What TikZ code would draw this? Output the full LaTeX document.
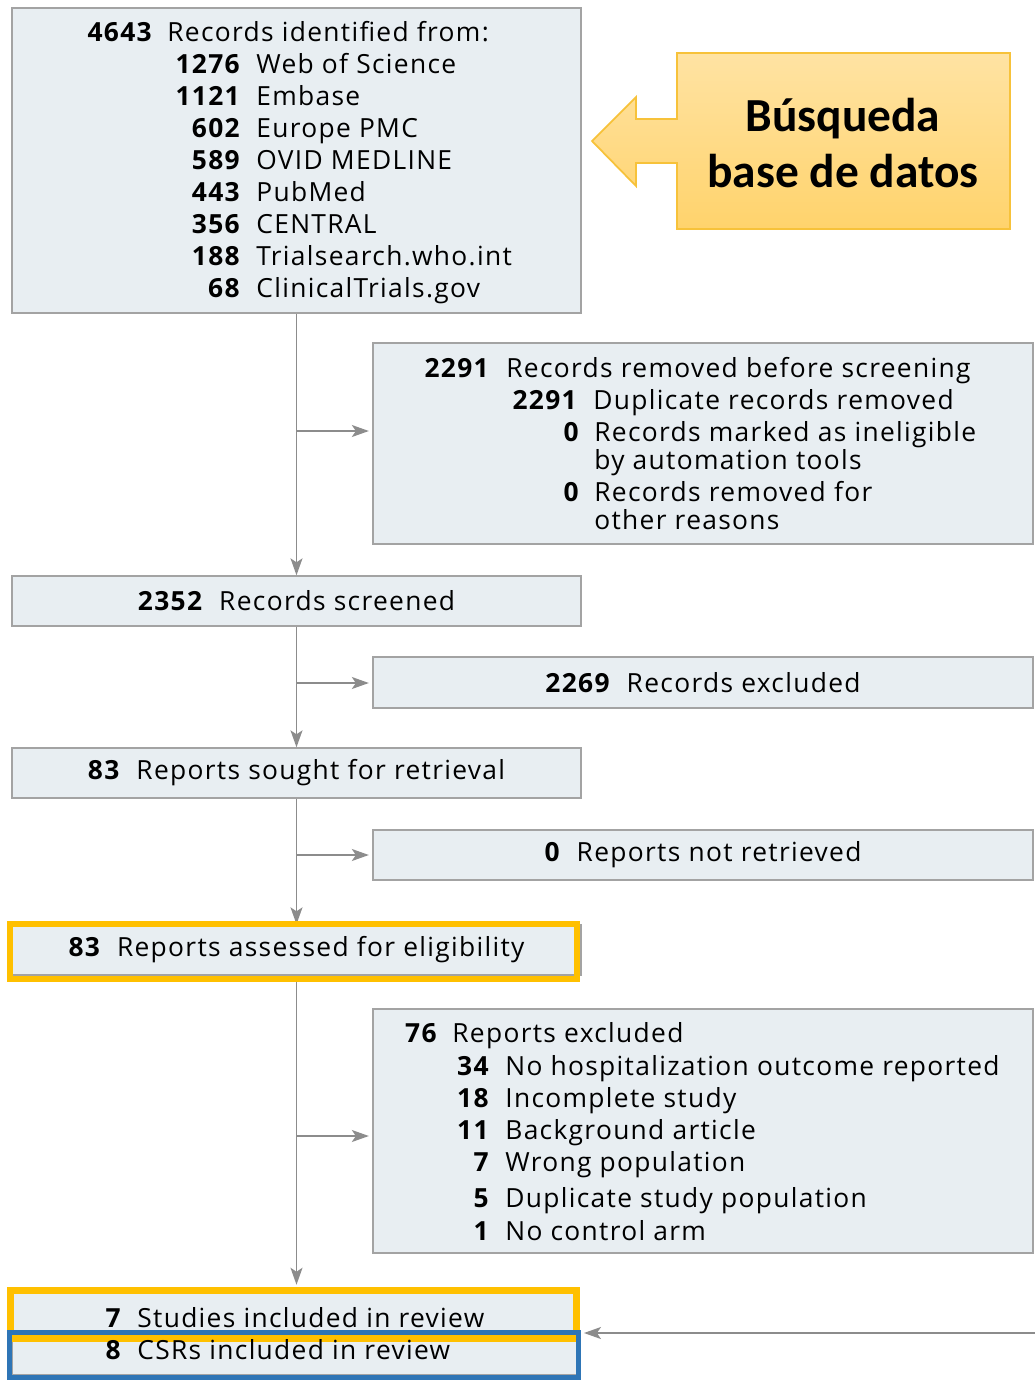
\documentclass[tikz,border=0pt]{standalone}
\usepackage{fontspec}
\setmainfont{Open Sans}[LetterSpace=5]
\newfontfamily\calloutfont{Carlito}
\usetikzlibrary{arrows.meta}

\definecolor{boxfill}{HTML}{E8EEF2}
\definecolor{boxline}{HTML}{A3A3A3}
\definecolor{arrowgray}{HTML}{8C8C8C}
\definecolor{hiorange}{HTML}{FFC000}
\definecolor{hiblue}{HTML}{2E75B6}
\definecolor{calltop}{HTML}{FFE3A3}
\definecolor{callbot}{HTML}{FFD36C}
\definecolor{callline}{HTML}{F7C23A}

\begin{document}
\begin{tikzpicture}[x=0.02cm,y=-0.02cm,
    box/.style={draw=boxline,fill=boxfill,line width=0.8pt,inner sep=0pt,font=\fontsize{15}{18}\selectfont},
    num/.style={anchor=mid east,inner sep=0pt,yshift=-0.1cm,font=\fontsize{15}{18}\selectfont\bfseries},
    txt/.style={anchor=mid west,inner sep=0pt,yshift=-0.1cm,font=\fontsize{15}{18}\selectfont},
    arr/.style={draw=arrowgray,line width=0.8pt,-{Stealth[length=0.34cm,width=0.24cm,inset=0.08cm]}},
    hilite/.style={inner sep=0pt,fill=none}]
    \useasboundingbox (0,0) rectangle (1035,1380);
    % boxes
    \node[box,minimum width=11.38cm,minimum height=6.1cm] (ident) at (296.5,160.5) {};
    \node[box,minimum width=13.2cm,minimum height=4.02cm] (removed) at (703,443.5) {};
    \node[box,minimum width=11.38cm,minimum height=1cm] (screened) at (296.5,601) {\textbf{2352}\hspace{0.6em}Records screened};
    \node[box,minimum width=13.2cm,minimum height=1.02cm] (excluded) at (703,682.5) {\textbf{2269}\hspace{0.6em}Records excluded};
    \node[box,minimum width=11.38cm,minimum height=1cm] (sought) at (296.5,773) {\textbf{83}\hspace{0.6em}Reports sought for retrieval};
    \node[box,minimum width=13.2cm,minimum height=1cm] (notretr) at (703,855) {\textbf{0}\hspace{0.6em}Reports not retrieved};
    \node[box,minimum width=11.38cm,minimum height=1cm] (assessed) at (296.5,950) {\textbf{83}\hspace{0.6em}Reports assessed for eligibility};
    \node[box,minimum width=13.2cm,minimum height=4.88cm] (repexcl) at (703,1131) {};
    \node[box,minimum width=11.32cm,minimum height=1.68cm] (included) at (295,1333) {};
    % identification
    \node[num] (idn) at (152,32) {4643};
    \node[txt] (idt) at (167,32) {Records identified from:};
    \foreach \y/\n/\t in {64/1276/Web of Science,96/1121/Embase,128/602/Europe PMC,
        160/589/OVID MEDLINE,192/443/PubMed,224/356/CENTRAL,
        256/188/Trialsearch.who.int,288/68/ClinicalTrials.gov}{
        \node[num] (srcn\y) at (240,\y) {\n};
        \node[txt] (srct\y) at (256,\y) {\t};
    }
    % removed before screening
    \node[num] (rmn1) at (489,368) {2291};
    \node[txt] (rmt1) at (506,368) {Records removed before screening};
    \node[num] (rmn2) at (577,400) {2291};
    \node[txt] (rmt2) at (593,400) {Duplicate records removed};
    \node[num] (rmn3) at (579,432) {0};
    \node[txt] (rmt3) at (594,432) {Records marked as ineligible};
    \node[txt] (rmt3b) at (594,460) {by automation tools};
    \node[num] (rmn4) at (579,492) {0};
    \node[txt] (rmt4) at (594,492) {Records removed for};
    \node[txt] (rmt4b) at (594,520) {other reasons};
    % reports excluded
    \node[num] (exn0) at (437,1033) {76};
    \node[txt] (ext0) at (452,1033) {Reports excluded};
    \foreach \y/\n/\t in {1066/34/No hospitalization outcome reported,1098/18/Incomplete study,
        1130/11/Background article,1162/7/Wrong population,
        1198/5/Duplicate study population,1231/1/No control arm}{
        \node[num] (exn\y) at (489,\y) {\n};
        \node[txt] (ext\y) at (505,\y) {\t};
    }
    % arrows
    \draw[arr] (ident.south) -- (screened.north);
    \draw[arr] (screened.south) -- (sought.north);
    \draw[arr] (sought.south) -- (assessed.north);
    \coordinate (j1) at (296.5,431);
    \coordinate (j2) at (296.5,683);
    \coordinate (j3) at (296.5,855);
    \coordinate (j4) at (296.5,1136);
    \draw[arr,shorten >=2pt] (j1) -- (j1 -| removed.west);
    \draw[arr,shorten >=2pt] (j2) -- (j2 -| excluded.west);
    \draw[arr,shorten >=2pt] (j3) -- (j3 -| notretr.west);
    \draw[arr,shorten >=2pt] (j4) -- (j4 -| repexcl.west);
    % highlights
    \node[hilite,draw=hiorange,line width=0.12cm,minimum width=11.34cm,minimum height=1.1cm] (assessedhl) at (293.5,951) {};
    \node[hilite,draw=hiorange,line width=0.14cm,minimum width=11.34cm,minimum height=0.96cm] (includedhl) at (293.5,1314) {};
    \node[hilite,draw=hiblue,line width=0.1cm,minimum width=11.38cm,minimum height=0.9cm] (csrhl) at (294,1355) {};
    \draw[arr,shorten >=1pt] (assessedhl.south -| assessed.south) -- (assessed.south |- includedhl.north);
    \coordinate (feed) at (1035,1333);
    \draw[arr,shorten >=2pt] (feed) -- (feed -| includedhl.east);
    % included
    \node[num] (inn1) at (121,1318) {7};
    \node[txt] (int1) at (137,1318) {Studies included in review};
    \node[num] (inn2) at (121,1350) {8};
    \node[txt] (int2) at (137,1350) {CSRs included in review};
    % callout
    \draw[callline,line width=1pt,top color=calltop,bottom color=callbot]
        (677,53) -- (1010,53) -- (1010,229) -- (677,229) -- (677,163) -- (636,163)
        -- (636,186) -- (592,141) -- (636,97) -- (636,119) -- (677,119) -- cycle;
    \node[align=center,font=\calloutfont\bfseries\fontsize{27}{32.4}\selectfont] (search) at (843,143) {Búsqueda\\base de datos};
\end{tikzpicture}
\end{document}
